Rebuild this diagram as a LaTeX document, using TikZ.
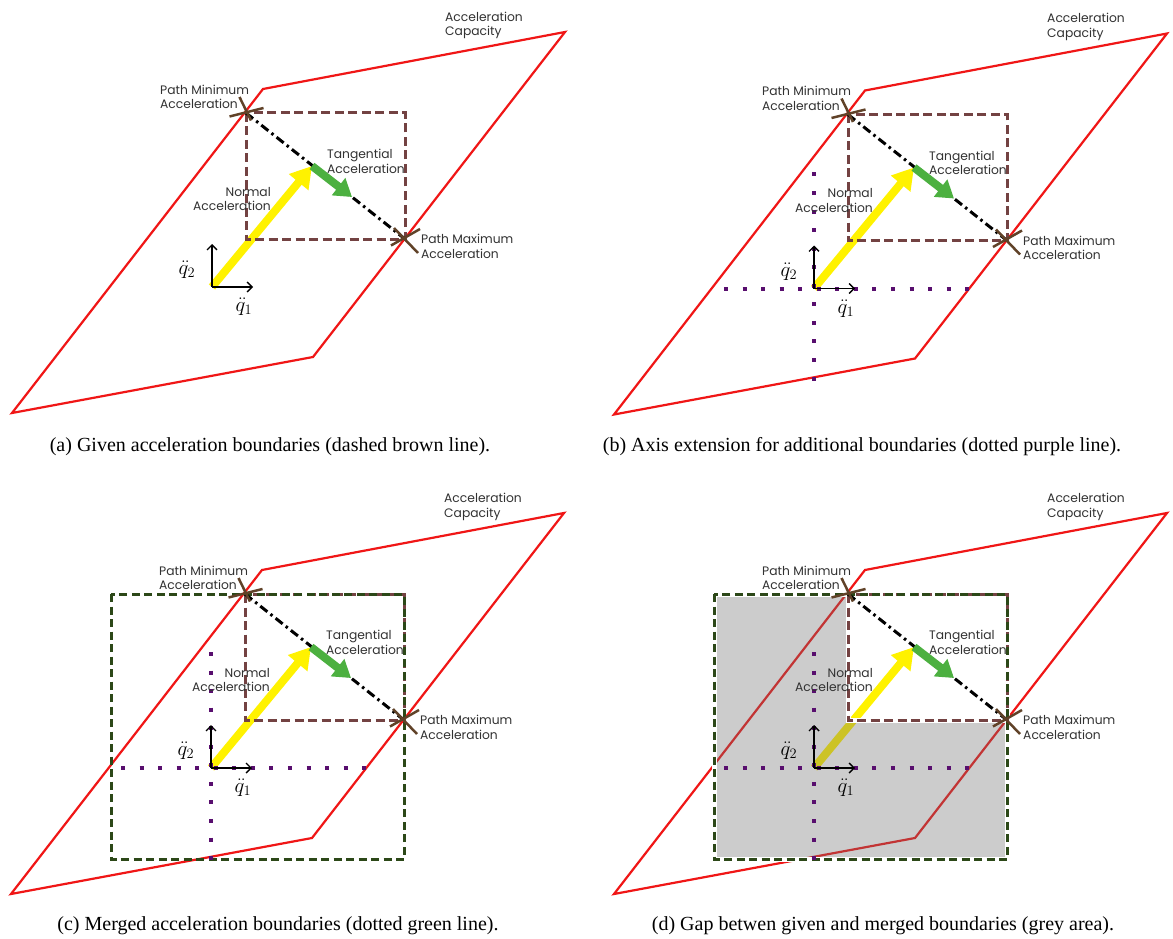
\documentclass[tikz,border=0pt]{standalone}
\usepackage{fontspec}
\setmainfont{Liberation Serif}
\newfontfamily\lblfont{Poppins}
\usetikzlibrary{arrows.meta}

\definecolor{capred}{RGB}{240,22,22}
\definecolor{givenbrown}{RGB}{115,66,66}
\definecolor{crossbrown}{RGB}{96,66,40}
\definecolor{axpurple}{RGB}{88,14,110}
\definecolor{mergegreen}{RGB}{44,72,24}
\definecolor{normyellow}{RGB}{255,242,0}
\definecolor{tangreen}{RGB}{76,176,64}
\definecolor{lbltext}{RGB}{50,50,50}

\tikzset{
  capacity/.style={draw=capred, line width=2.2pt, line join=miter},
  givenbox/.style={draw=givenbrown, line width=3pt, dash pattern=on 9pt off 4.5pt},
  mergedbox/.style={draw=mergegreen, line width=3pt, dash pattern=on 8pt off 4.5pt},
  underlay/.style={draw=white, line width=5pt},
  gapfill/.style={fill=black!57, fill opacity=0.35},
  pathline/.style={draw=black, line width=3pt, dash pattern=on 9pt off 4pt on 2.5pt off 4pt},
  crossbar/.style={draw=crossbrown, line width=2.5pt},
  normalvec/.style={draw=normyellow, line width=8pt, -{Triangle[length=21pt,width=24pt]}},
  tangvec/.style={draw=tangreen, line width=8pt, -{Triangle[length=17pt,width=21pt]}},
  extaxis/.style={draw=axpurple, line width=4pt, dash pattern=on 4pt off 14.55pt},
  axisarrow/.style={draw=black, line width=1.4pt, -{Straight Barb[length=5pt,width=10pt]}},
  lbl/.style={font=\lblfont\fontsize{12.3}{14.5}\selectfont, text=lbltext, inner sep=0pt, align=left},
  qlbl/.style={font=\fontsize{20}{20}\selectfont, inner sep=0pt},
  caption/.style={font=\fontsize{20}{20}\selectfont, inner sep=0pt, anchor=base},
}

% One panel of the acceleration plane.
% #1 name prefix, #2 axis extension, #3 merged box, #4 grey gap
\newcommand\accelpanel[4]{%
  \coordinate (#1bl) at (12,413);
  \coordinate (#1tl) at (263,89);
  \coordinate (#1tr) at (565,32);
  \coordinate (#1br) at (313,357);
  \coordinate (#1o) at (212,287);
  \coordinate (#1min) at (246,113);
  \coordinate (#1max) at (405,239);
  \coordinate (#1n) at (312,166);
  \coordinate (#1t) at (352,197);
  \coordinate (#1mtl) at (112,113);
  \coordinate (#1mbr) at (405,378);
  \coordinate (#1hl) at (122,287);
  \coordinate (#1hr) at (368,287);
  \coordinate (#1vt) at (212,171);
  \coordinate (#1vb) at (212,379);
  \coordinate (#1ax) at (253,287);
  \coordinate (#1ay) at (212,244);
  % acceleration capacity
  \draw[capacity] (#1bl) -- (#1tl) -- (#1tr) -- (#1br) -- cycle;
  % normal acceleration
  \draw[normalvec] (#1o) -- (#1n);
  % gap between given and merged boundaries
  \ifnum#4=1
    \fill[gapfill] (#1mtl) -- (#1min) -- (#1min |- #1max) -- (#1max)
      -- (#1mbr) -- (#1mtl |- #1mbr) -- cycle;
    \draw[underlay] (#1min) rectangle (#1max);
    \draw[underlay] (#1mtl) rectangle (#1mbr);
  \fi
  % given boundaries
  \draw[givenbox] (#1min) rectangle (#1max);
  % merged boundaries
  \ifnum#3=1
    \draw[mergedbox] (#1mtl) rectangle (#1mbr);
  \fi
  % path line and tangential acceleration
  \draw[pathline] (#1min) -- (#1max);
  \draw[tangvec] (#1n) -- (#1t);
  % path limits
  \draw[crossbar] ([shift={(-6.5,-16)}]#1min) -- ([shift={(5,7.5)}]#1min);
  \draw[crossbar] ([shift={(-16.5,3.5)}]#1min) -- ([shift={(17.5,-5)}]#1min);
  \draw[crossbar] ([shift={(-11,-11)}]#1max) -- ([shift={(13,14)}]#1max);
  \draw[crossbar] ([shift={(-14,6.5)}]#1max) -- ([shift={(15,-10)}]#1max);
  % axis extension
  \ifnum#2=1
    \draw[extaxis] (#1hl) -- (#1hr);
    \draw[extaxis] (#1vt) -- (#1vb);
  \fi
  % joint acceleration axes
  \draw[axisarrow] (#1o) -- (#1ay);
  \draw[axisarrow] (#1o) -- (#1ax);
  \node[qlbl] (#1q2) at (187,270) {$\ddot{q}_2$};
  \node[qlbl] (#1q1) at (244,307) {$\ddot{q}_1$};
  % labels (anchored at the baseline of their last line)
  \node[lbl, anchor=base west] (#1caplbl) at (445,36) {Acceleration\\Capacity};
  \node[lbl, anchor=base west] (#1minlbl) at (160,108.7) {Path Minimum\\Acceleration};
  \node[lbl, anchor=base west] (#1tanlbl) at (327,173.3) {Tangential\\Acceleration};
  \node[lbl, anchor=base east, align=right] (#1norlbl) at (271,210.7) {Normal\\Acceleration};
  \node[lbl, anchor=base west] (#1maxlbl) at (421,258.3) {Path Maximum\\Acceleration};
}

\begin{document}
\begin{tikzpicture}[x=1pt,y=-1pt]
  \useasboundingbox (0,0) rectangle (1173,939);
  \fill[white] (0,0) rectangle (1173,939);

  \begin{scope}[shift={(0,0)}]
    \accelpanel{a}{0}{0}{0}
  \end{scope}
  \begin{scope}[shift={(602,1.5)}]
    \accelpanel{b}{1}{0}{0}
  \end{scope}
  \begin{scope}[shift={(-1,481)}]
    \accelpanel{c}{1}{1}{0}
  \end{scope}
  \begin{scope}[shift={(602,481)}]
    \accelpanel{d}{1}{1}{1}
  \end{scope}

  \node[caption] (capa) at (270,451) {(a) Given acceleration boundaries (dashed brown line).};
  \node[caption] (capb) at (862,451) {(b) Axis extension for additional boundaries (dotted purple line).};
  \node[caption] (capc) at (278,930) {(c) Merged acceleration boundaries (dotted green line).};
  \node[caption] (capd) at (883,930) {(d) Gap betwen given and merged boundaries (grey area).};
\end{tikzpicture}
\end{document}
